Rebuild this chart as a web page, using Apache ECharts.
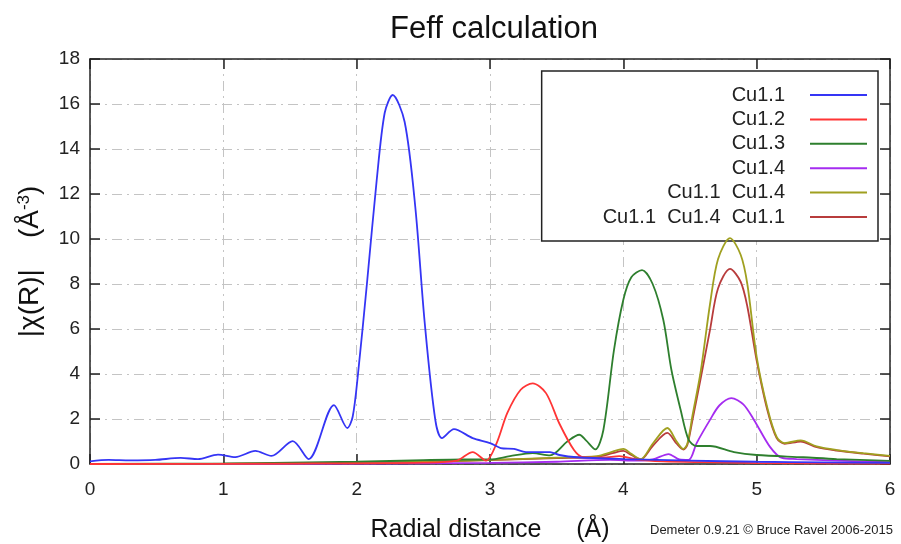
<!DOCTYPE html>
<html>
<head>
    <meta charset="utf-8">
    <script src="https://cdn.jsdelivr.net/npm/echarts@6/dist/echarts.min.js"></script>
</head>
<body style="margin:0;background:#fff">
    <div id="main" style="width:901px;height:544px"></div>

    <script type="text/javascript">
        // path names and the [R, |chi(R)|] points
        var names = ['Cu1.1', 'Cu1.2', 'Cu1.3', 'Cu1.4', 'Cu1.1  Cu1.4', 'Cu1.1  Cu1.4  Cu1.1'];
        var colors = ['#3535f5', '#ff3535', '#2e7f2e', '#a52cf0', '#a0a020', '#b83c3c'];

        var cu11 = [[0,0.12],[0.14,0.18],[0.3,0.16],[0.49,0.18],[0.68,0.27],[0.81,0.22],[0.96,0.42],[1.09,0.31],
            [1.24,0.58],[1.36,0.36],[1.52,1.02],[1.64,0.22],[1.83,2.62],[1.93,1.6],[1.97,2.1],[2.01,4.0],
            [2.08,8.2],[2.15,12.6],[2.21,15.6],[2.27,16.4],[2.36,15.2],[2.44,11.4],[2.51,6.3],[2.59,1.95],
            [2.64,1.15],[2.73,1.55],[2.87,1.15],[3.0,0.93],[3.08,0.71],[3.18,0.67],[3.27,0.53],[3.45,0.53],
            [3.52,0.4],[3.65,0.3],[4.0,0.22],[4.5,0.15],[5.0,0.1],[5.5,0.07],[6.0,0.05]];
        var cu12 = [[0,0],[1.5,0.02],[2.5,0.06],[2.75,0.15],[2.87,0.53],[2.97,0.15],[3.05,0.93],[3.13,2.27],
            [3.23,3.3],[3.32,3.58],[3.42,3.15],[3.52,1.8],[3.63,0.62],[3.7,0.3],[3.85,0.28],[3.97,0.35],
            [4.1,0.2],[4.3,0.12],[4.6,0.08],[5.0,0.04],[6,0.02]];
        var cu13 = [[0,0.01],[1,0.03],[1.5,0.06],[2,0.1],[2.5,0.17],[2.8,0.2],[3.0,0.2],[3.15,0.35],[3.32,0.48],
            [3.45,0.38],[3.58,1.0],[3.67,1.3],[3.72,1.05],[3.79,0.65],[3.85,1.5],[3.93,5.07],[4.0,7.3],
            [4.06,8.3],[4.14,8.62],[4.22,8.0],[4.3,6.4],[4.36,4.2],[4.43,2.4],[4.49,1.07],[4.55,0.8],
            [4.65,0.8],[4.83,0.53],[5.0,0.4],[5.35,0.3],[5.6,0.22],[6,0.14]];
        var cu14 = [[0,0],[2,0.02],[3,0.05],[3.5,0.1],[3.9,0.18],[4.1,0.15],[4.22,0.2],[4.34,0.44],[4.42,0.2],
            [4.49,0.18],[4.55,0.93],[4.65,1.96],[4.72,2.6],[4.81,2.93],[4.9,2.65],[4.98,1.96],[5.1,0.76],
            [5.19,0.27],[5.3,0.22],[5.6,0.15],[6,0.08]];
        var cu11cu14 = [[0,0],[1,0.01],[2,0.05],[2.5,0.1],[3,0.18],[3.5,0.28],[3.8,0.35],[3.92,0.55],[4.0,0.67],
            [4.06,0.45],[4.13,0.22],[4.22,0.9],[4.33,1.6],[4.4,1.0],[4.45,0.67],[4.48,0.9],[4.52,2.2],[4.58,4.1],
            [4.65,7.1],[4.71,9.1],[4.8,10.04],[4.88,9.3],[4.93,8.0],[5.0,4.76],[5.08,2.5],[5.15,1.2],
            [5.21,0.93],[5.33,1.05],[5.45,0.78],[5.6,0.62],[5.8,0.48],[6,0.36]];
        var cu11cu14cu11 = [[0,0],[1,0.01],[2,0.05],[2.5,0.1],[3,0.17],[3.5,0.26],[3.8,0.32],[3.92,0.48],[4.0,0.58],
            [4.06,0.4],[4.13,0.2],[4.22,0.8],[4.33,1.38],[4.4,0.9],[4.45,0.64],[4.48,0.85],[4.52,2.0],[4.58,3.8],
            [4.65,5.96],[4.71,7.8],[4.8,8.67],[4.88,8.1],[4.93,7.0],[5.0,4.6],[5.08,2.4],[5.15,1.15],
            [5.21,0.9],[5.33,1.0],[5.45,0.75],[5.6,0.6],[5.8,0.46],[6,0.34]];

        var xTicks = [0, 6, 1];   // min, max, step
        var yTicks = [0, 18, 2];

        var allData = [cu11, cu12, cu13, cu14, cu11cu14, cu11cu14cu11];

        var font = 'Liberation Sans, Arial, sans-serif';
        var gridLine = { show: true, lineStyle: { color: '#c4c4c4', width: 1, type: [10, 5, 2, 5] } };
        var frame = { show: true, onZero: false, lineStyle: { color: '#222', width: 1.5 } };
        var tick = { show: true, inside: true, length: 10, lineStyle: { color: '#222', width: 1.5 } };

        var myChart = echarts.init(document.getElementById('main'));

        var series = [];
        for (var i = 0; i < names.length; i++) {
            series.push({
                name: names[i],
                type: 'line',
                data: allData[i],
                smooth: 0.3,
                symbol: 'none',
                lineStyle: { color: colors[i], width: 1.8 },
                itemStyle: { color: colors[i] },
                z: 2 + (names.length - i)
            });
        }

        var option = {
            animation: false,
            backgroundColor: '#fff',
            textStyle: { fontFamily: font },
            title: {
                text: 'Feff calculation',
                left: 385,
                top: 9,
                textStyle: { fontFamily: font, fontSize: 31, fontWeight: 'normal', color: '#111' }
            },
            legend: {
                data: names,
                orient: 'vertical',
                align: 'right',
                right: 23,
                top: 71,
                z: 1,
                icon: 'rect',
                itemWidth: 57,
                itemHeight: 2,
                itemGap: 0.4,
                padding: [12, 11, 12, 61],
                borderColor: '#222',
                borderWidth: 1.5,
                borderRadius: 0,
                backgroundColor: '#fff',
                textStyle: { fontFamily: font, fontSize: 20, color: '#222', lineHeight: 24, padding: [0, 20, 0, 0] }
            },
            grid: { left: 90, right: 11, top: 59, bottom: 80, outerBoundsMode: 'none' },
            xAxis: [{
                type: 'value',
                min: xTicks[0], max: xTicks[1], interval: xTicks[2],
                position: 'bottom',
                name: 'Radial distance     (Å)',
                nameLocation: 'middle',
                nameGap: 54,
                nameTextStyle: { fontFamily: font, fontSize: 25, color: '#111' },
                axisLine: frame,
                axisTick: tick,
                axisLabel: { fontSize: 19, color: '#222', margin: 16 },
                splitLine: gridLine
            }, {
                type: 'value',
                min: xTicks[0], max: xTicks[1], interval: xTicks[2],
                position: 'top',
                axisLine: frame,
                axisTick: tick,
                axisLabel: { show: false },
                splitLine: { show: false }
            }],
            yAxis: [{
                type: 'value',
                min: yTicks[0], max: yTicks[1], interval: yTicks[2],
                position: 'left',
                name: '{a||χ(R)|    (Å}{s|-3}{a|)}',
                nameLocation: 'middle',
                nameGap: 45,
                nameTextStyle: {
                    rich: {
                        a: { fontFamily: font, fontSize: 28, color: '#111' },
                        s: { fontFamily: font, fontSize: 17, color: '#111', verticalAlign: 'top', padding: [0, 0, 12, 0] }
                    }
                },
                axisLine: frame,
                axisTick: tick,
                axisLabel: { fontSize: 19, color: '#222', margin: 10 },
                splitLine: gridLine
            }, {
                type: 'value',
                min: yTicks[0], max: yTicks[1], interval: yTicks[2],
                position: 'right',
                axisLine: frame,
                axisTick: tick,
                axisLabel: { show: false },
                splitLine: { show: false }
            }],
            graphic: [{
                type: 'text',
                right: 8,
                top: 524,
                style: {
                    text: 'Demeter 0.9.21 © Bruce Ravel 2006-2015',
                    fontFamily: font,
                    fontSize: 13,
                    fill: '#222'
                }
            }],
            series: series
        };

        myChart.setOption(option);
    </script>
</body>
</html>
